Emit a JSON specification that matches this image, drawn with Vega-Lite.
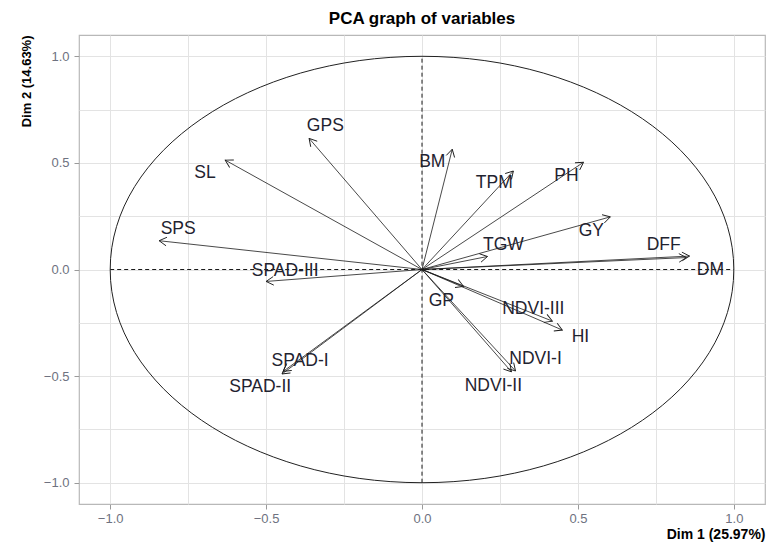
{
  "$schema": "https://vega.github.io/schema/vega-lite/v6.json",
  "width": 686,
  "height": 469,
  "autosize": {"type": "none"},
  "padding": {"left": 79, "top": 35, "right": 6, "bottom": 47},
  "background": "white",
  "title": {"text": "PCA graph of variables", "anchor": "middle", "fontSize": 17, "font": "Liberation Sans", "fontWeight": "bold", "color": "#000000", "offset": 7},
  "config": {
    "view": {"stroke": "#b8b8b8", "strokeWidth": 1.2},
    "font": "Liberation Sans",
    "axis": {
      "domain": false,
      "grid": true,
      "gridColor": "#e3e3e3",
      "gridWidth": 1,
      "tickColor": "#9a9a9a",
      "tickSize": 5,
      "labelFont": "Liberation Sans",
      "labelFontSize": 13,
      "labelColor": "#6e7280",
      "titleFont": "Liberation Sans",
      "titleFontWeight": "bold",
      "titleColor": "#000000"
    }
  },
  "datasets": {
    "vars": [
      {"name": "GPS", "ox": 0, "oy": 0, "x": -0.362, "y": 0.615, "lx": -0.310, "ly": 0.671},
      {"name": "SL", "ox": 0, "oy": 0, "x": -0.631, "y": 0.513, "lx": -0.696, "ly": 0.452},
      {"name": "SPS", "ox": 0, "oy": 0, "x": -0.843, "y": 0.135, "lx": -0.782, "ly": 0.191},
      {"name": "SPAD-III", "ox": 0, "oy": 0, "x": -0.500, "y": -0.056, "lx": -0.439, "ly": -0.005},
      {"name": "BM", "ox": 0, "oy": 0, "x": 0.097, "y": 0.564, "lx": 0.033, "ly": 0.503},
      {"name": "TPM", "ox": 0, "oy": 0, "x": 0.293, "y": 0.462, "lx": 0.232, "ly": 0.406},
      {"name": "PH", "ox": 0, "oy": 0, "x": 0.518, "y": 0.503, "lx": 0.463, "ly": 0.438},
      {"name": "GY", "ox": 0, "oy": 0, "x": 0.604, "y": 0.247, "lx": 0.543, "ly": 0.182},
      {"name": "TGW", "ox": 0, "oy": 0, "x": 0.210, "y": 0.061, "lx": 0.261, "ly": 0.117},
      {"name": "DFF", "ox": 0, "oy": 0, "x": 0.858, "y": 0.063, "lx": 0.775, "ly": 0.117},
      {"name": "DM", "ox": 0, "oy": 0, "x": 0.848, "y": 0.056, "lx": 0.925, "ly": 0.0},
      {"name": "GP", "ox": 0, "oy": 0, "x": 0.133, "y": -0.079, "lx": 0.062, "ly": -0.149},
      {"name": "NDVI-III", "ox": 0, "oy": 0, "x": 0.418, "y": -0.242, "lx": 0.357, "ly": -0.186},
      {"name": "HI", "ox": 0, "oy": 0, "x": 0.450, "y": -0.284, "lx": 0.508, "ly": -0.317},
      {"name": "NDVI-I", "ox": 0, "oy": 0, "x": 0.300, "y": -0.476, "lx": 0.364, "ly": -0.420},
      {"name": "NDVI-II", "ox": 0, "oy": 0, "x": 0.287, "y": -0.480, "lx": 0.229, "ly": -0.545},
      {"name": "SPAD-I", "ox": 0, "oy": 0, "x": -0.445, "y": -0.478, "lx": -0.391, "ly": -0.429},
      {"name": "SPAD-II", "ox": 0, "oy": 0, "x": -0.449, "y": -0.490, "lx": -0.519, "ly": -0.550}
    ],
    "axeslines": [
      {"x": -1, "x2": 1, "y": 0, "y2": 0},
      {"x": 0, "x2": 0, "y": -1, "y2": 1}
    ],
    "centre": [{"x": 0, "y": 0}]
  },
  "layer": [
    {
      "data": {"name": "axeslines"},
      "mark": {"type": "rule", "color": "#1a1a1a", "strokeWidth": 1, "strokeDash": [4, 3]},
      "encoding": {
        "x": {"field": "x", "type": "quantitative", "scale": {"domain": [-1.1, 1.1], "nice": false, "zero": false},
          "axis": {"title": "Dim 1 (25.97%)", "titleFontSize": 14, "titleAnchor": "end", "titlePadding": 2, "labelPadding": 3,
            "values": [-1, -0.75, -0.5, -0.25, 0, 0.25, 0.5, 0.75, 1],
            "labelExpr": "datum.value % 0.5 == 0 ? format(datum.value, '.1f') : ''",
            "tickOpacity": {"expr": "datum.value % 0.5 == 0 ? 1 : 0"}}},
        "x2": {"field": "x2"},
        "y": {"field": "y", "type": "quantitative", "scale": {"domain": [-1.1, 1.1], "nice": false, "zero": false},
          "axis": {"title": "Dim 2 (14.63%)", "titleFontSize": 13, "titleAnchor": "end", "titlePadding": 10, "labelPadding": 5,
            "values": [-1, -0.75, -0.5, -0.25, 0, 0.25, 0.5, 0.75, 1],
            "labelExpr": "datum.value % 0.5 == 0 ? format(datum.value, '.1f') : ''",
            "tickOpacity": {"expr": "datum.value % 0.5 == 0 ? 1 : 0"}}},
        "y2": {"field": "y2"}
      }
    },
    {
      "data": {"name": "centre"},
      "mark": {"type": "point", "shape": "M-1,0A1,0.6838,0,1,1,1,0A1,0.6838,0,1,1,-1,0Z", "filled": false, "stroke": "#222222", "strokeWidth": 1, "size": 388877, "opacity": 1},
      "encoding": {
        "x": {"field": "x", "type": "quantitative", "title": "Dim 1 (25.97%)"},
        "y": {"field": "y", "type": "quantitative", "title": "Dim 2 (14.63%)"}
      }
    },
    {
      "data": {"name": "vars"},
      "mark": {"type": "rule", "color": "#1a1a1a", "strokeWidth": 0.8},
      "encoding": {
        "x": {"field": "ox", "type": "quantitative", "title": "Dim 1 (25.97%)"},
        "y": {"field": "oy", "type": "quantitative", "title": "Dim 2 (14.63%)"},
        "x2": {"field": "x"},
        "y2": {"field": "y"}
      }
    },
    {
      "data": {"name": "vars"},
      "transform": [{"calculate": "atan2(-datum.y * 213.2, datum.x * 311.8) * 180 / PI", "as": "ang"}],
      "mark": {"type": "point", "shape": "M-1,-0.577L0,0L-1,0.577", "filled": false, "stroke": "#1a1a1a", "strokeWidth": 0.9, "size": 220, "opacity": 1},
      "encoding": {
        "x": {"field": "x", "type": "quantitative", "title": "Dim 1 (25.97%)"},
        "y": {"field": "y", "type": "quantitative", "title": "Dim 2 (14.63%)"},
        "angle": {"field": "ang", "type": "quantitative", "scale": null}
      }
    },
    {
      "data": {"name": "vars"},
      "mark": {"type": "text", "font": "Liberation Sans", "fontSize": 17.5, "color": "#1f2330", "align": "center", "baseline": "middle"},
      "encoding": {
        "x": {"field": "lx", "type": "quantitative", "title": "Dim 1 (25.97%)"},
        "y": {"field": "ly", "type": "quantitative", "title": "Dim 2 (14.63%)"},
        "text": {"field": "name"}
      }
    }
  ]
}
